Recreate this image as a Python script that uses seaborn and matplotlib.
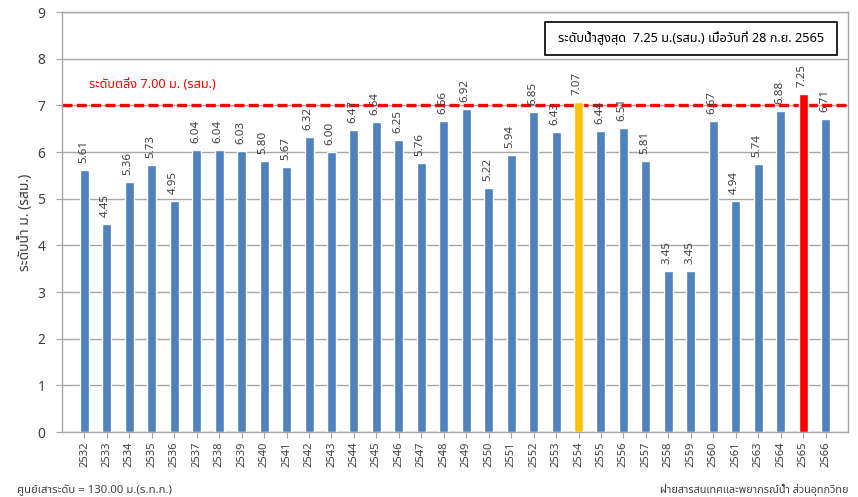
import matplotlib
matplotlib.use("Agg")
import matplotlib.pyplot as plt
import seaborn as sns
import pandas as pd
from matplotlib import font_manager
from matplotlib.ft2font import FT2Font
from matplotlib.patches import Rectangle

# Data
years = ['2532', '2533', '2534', '2535', '2536', '2537', '2538', '2539', '2540', '2541',
         '2542', '2543', '2544', '2545', '2546', '2547', '2548', '2549', '2550', '2551',
         '2552', '2553', '2554', '2555', '2556', '2557', '2558', '2559', '2560', '2561',
         '2563', '2564', '2565', '2566']
levels = [5.61, 4.45, 5.36, 5.73, 4.95, 6.04, 6.04, 6.03, 5.80, 5.67,
          6.32, 6.00, 6.47, 6.64, 6.25, 5.76, 6.66, 6.92, 5.22, 5.94,
          6.85, 6.43, 7.07, 6.44, 6.51, 5.81, 3.45, 3.45, 6.67, 4.94,
          5.74, 6.88, 7.25, 6.71]
bank_level = 7.00
highlight = {'2554': '#FFC000', '2565': '#FF0000'}
base_color = '#4F81BD'


def find_thai_font():
    # pick an installed font that actually has Thai glyphs
    prefer = ['Tahoma', 'Noto Sans Thai', 'Noto Sans Thai UI', 'Loma', 'Garuda',
              'Waree', 'Sawasdee', 'Umpush', 'Norasi', 'Kinnari', 'FreeSans']
    found = {}
    for f in font_manager.fontManager.ttflist:
        try:
            cmap = FT2Font(f.fname).get_charmap()
        except Exception:
            continue
        if ord('ร') in cmap and ord('บ') in cmap:
            found.setdefault(f.name, f.fname)
    for p in prefer:
        if p in found:
            return p
    return next(iter(found), None)


sns.set_style("white")
thai = find_thai_font()
plt.rcParams['font.family'] = [thai, 'DejaVu Sans'] if thai else ['DejaVu Sans']

df = pd.DataFrame({'year': years, 'level': levels})
palette = {y: highlight.get(y, base_color) for y in years}

W, H = 858, 497
fig = plt.figure(figsize=(8.58, 4.97), dpi=100)
ax = fig.add_axes([62 / W, 65 / H, 786 / W, 420 / H])

sns.barplot(data=df, x='year', y='level', hue='year', palette=palette,
            width=0.4, legend=False, saturation=1, ax=ax, zorder=3)

ax.set_xlim(-1, len(years))
ax.set_ylim(0, 9)
ax.set_yticks(range(0, 10))
ax.yaxis.grid(True, color='#A6A6A6', linewidth=1, zorder=0)
ax.set_axisbelow(True)
for s in ax.spines.values():
    s.set_color('#A6A6A6')
    s.set_linewidth(1)

ax.tick_params(axis='x', labelrotation=90, labelsize=8, length=4, color='#A6A6A6',
               bottom=True, pad=3)
ax.tick_params(axis='y', labelsize=10, length=4, color='#A6A6A6', left=True, pad=8)
for t in ax.get_xticklabels() + ax.get_yticklabels():
    t.set_color('#404040')
ax.set_xlabel('')
ax.set_ylabel('')

# value labels above bars
for i, v in enumerate(levels):
    ax.text(i - 0.05, v + 0.15, f'{v:.2f}', rotation=90, ha='center', va='bottom',
            fontsize=8.3, color='#404040', zorder=4)

# bank-full level
ax.axhline(bank_level, color='#FF0000', linestyle='--', linewidth=2.4, dashes=(3, 1.3), zorder=2)
ax.text(0.2, 7.45, 'ระดับตลิ่ง 7.00 ม. (รสม.)', color='#FF0000', fontsize=9.2,
        ha='left', va='center', zorder=4)

# max level box
fig.patches.append(Rectangle((545 / W, 1 - 55 / H), 292 / W, 33 / H, transform=fig.transFigure,
                             facecolor='white', edgecolor='black', linewidth=1.2, zorder=5))
fig.text(691 / W, 1 - 38.5 / H, 'ระดับน้ำสูงสุด  7.25 ม.(รสม.) เมื่อวันที่ 28 ก.ย. 2565',
         ha='center', va='center', fontsize=9.2, color='black', zorder=6)

fig.text(26 / W, 1 - 222 / H, 'ระดับน้ำ ม. (รสม.)', rotation=90, ha='center', va='center',
         fontsize=10, fontweight='bold', color='#404040')
fig.text(17 / W, 1 - 490 / H, 'ศูนย์เสาระดับ = 130.00 ม.(ร.ท.ก.)', ha='left', va='center',
         fontsize=8.2, color='#404040')
fig.text(848 / W, 1 - 490 / H, 'ฝ่ายสารสนเทศและพยากรณ์น้ำ ส่วนอุทกวิทย', ha='right',
         va='center', fontsize=7.8, color='#404040')

fig.savefig('out.png', dpi=100)
